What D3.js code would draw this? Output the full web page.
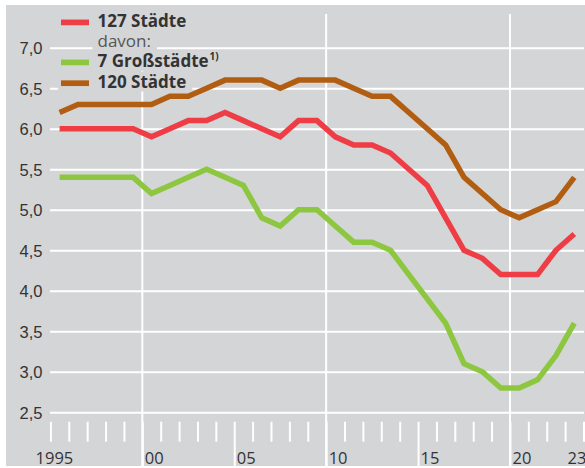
<!DOCTYPE html>
<html>
<head>
<meta charset="utf-8">
<script src="https://cdn.jsdelivr.net/npm/d3@7"></script>
<style>
  html, body { margin: 0; padding: 0; background: #fff; }
  svg { display: block; font-family: "Open Sans", "Noto Sans", sans-serif; }
  .tick-label { font-size: 16.5px; fill: #333; }
  .legend-text { font-size: 17px; font-weight: bold; fill: #333; }
</style>
</head>
<body>
<div id="chart"></div>
<script>
const years = d3.range(1995, 2024);
const cities127 = [6.0, 6.0, 6.0, 6.0, 6.0, 5.9, 6.0, 6.1, 6.1, 6.2,
                   6.1, 6.0, 5.9, 6.1, 6.1, 5.9, 5.8, 5.8, 5.7, 5.5,
                   5.3, 4.9, 4.5, 4.4, 4.2, 4.2, 4.2, 4.5, 4.7];
const bigCities7 = [5.4, 5.4, 5.4, 5.4, 5.4, 5.2, 5.3, 5.4, 5.5, 5.4,
                    5.3, 4.9, 4.8, 5.0, 5.0, 4.8, 4.6, 4.6, 4.5, 4.2,
                    3.9, 3.6, 3.1, 3.0, 2.8, 2.8, 2.9, 3.2, 3.6];
const cities120 = [6.2, 6.3, 6.3, 6.3, 6.3, 6.3, 6.4, 6.4, 6.5, 6.6,
                   6.6, 6.6, 6.5, 6.6, 6.6, 6.6, 6.5, 6.4, 6.4, 6.2,
                   6.0, 5.8, 5.4, 5.2, 5.0, 4.9, 5.0, 5.1, 5.4];
const yTicks = d3.range(2.5, 7.01, 0.5);
const xLabels = [1995, 2000, 2005, 2010, 2015, 2020, 2023];
const xLabelText = ["1995", "00", "05", "10", "15", "20", "23"];

const series = [
  { name: "127 Städte", values: cities127, color: "#ee3d45" },
  { name: "7 Großstädte", values: bigCities7, color: "#8dc63f" },
  { name: "120 Städte", values: cities120, color: "#b25e12" }
];

const W = 585, H = 468;
const svg = d3.select("#chart").append("svg").attr("width", W).attr("height", H);

const de = d3.formatLocale({ decimal: ",", thousands: ".", grouping: [3], currency: ["", "€"] });
const fmt = de.format(".1f");

const x = d3.scaleLinear().domain([1995, 2024]).range([50.4, 583.5]);
const y = d3.scaleLinear().domain([2.5, 7]).range([412.3, 47.7]);

// panel
svg.append("rect").attr("x", 6).attr("y", 5).attr("width", W - 6).attr("height", 461).attr("fill", "#d4d5d7");

// horizontal grid + y labels
const gy = svg.append("g").attr("transform", "translate(584,0)")
  .call(d3.axisLeft(y).tickValues(yTicks).tickSize(534).tickPadding(7.5).tickFormat(fmt));
gy.select(".domain").remove();
gy.selectAll(".tick line").attr("stroke", "#fff").attr("stroke-width", 2);
gy.selectAll(".tick text").attr("class", "tick-label").attr("font-family", null).attr("font-size", null)
  .attr("fill", null).attr("dy", "0.36em");

// vertical grid
svg.append("g").selectAll("line").data([2000, 2010, 2020]).join("line")
  .attr("x1", d => x(d)).attr("x2", d => x(d))
  .attr("y1", 14).attr("y2", 466)
  .attr("stroke", "#fff").attr("stroke-width", 2);

// year ticks
const gx = svg.append("g").attr("transform", "translate(0,421.7)")
  .call(d3.axisBottom(x).tickValues(d3.range(1995, 2025)).tickSize(20).tickFormat(""));
gx.select(".domain").remove();
gx.selectAll(".tick line").attr("stroke", "#fff").attr("stroke-width", 2)
  .attr("y2", d => (d % 5 === 0 && d !== 1995) ? 44.3 : 20);

svg.append("g").selectAll("text").data(xLabels).join("text")
  .attr("class", "tick-label")
  .attr("x", (d, i) => d === 1995 ? x(d) + 4 : x(d) + 2.5)
  .attr("y", 464)
  .attr("text-anchor", d => d === 1995 ? "middle" : "start")
  .text((d, i) => xLabelText[i]);

// lines
const line = d3.line().x((d, i) => x(years[i] + 0.5)).y(d => y(d));
svg.append("g").selectAll("path").data(series).join("path")
  .attr("d", d => line(d.values))
  .attr("fill", "none")
  .attr("stroke", d => d.color)
  .attr("stroke-width", 5.5);

// legend
const lg = svg.append("g");
const rows = [
  { text: "127 Städte", color: series[0].color, y: 26.7, bold: true },
  { text: "davon:", color: null, y: 47.2, bold: false },
  { text: "7 Großstädte", color: series[1].color, y: 66.7, bold: true, sup: "1)" },
  { text: "120 Städte", color: series[2].color, y: 87.5, bold: true }
];
const bgLayer = lg.append("g");
rows.forEach(r => {
  const t = lg.append("text").attr("class", "legend-text").attr("x", 97.5).attr("y", r.y).text(r.text);
  if (!r.bold) t.style("font-weight", "normal").style("fill", "#555");
  if (r.sup) t.append("tspan").attr("dy", -7).attr("dx", 1).style("font-size", "10px").text(r.sup);
  const bb = t.node().getBBox();
  const x0 = r.color ? 58 : bb.x - 5;
  bgLayer.append("rect")
    .attr("x", x0).attr("y", bb.y + 2)
    .attr("width", bb.x + bb.width + 6 - x0).attr("height", bb.height - 3)
    .attr("fill", "#d4d5d7");
  if (r.color) {
    lg.append("line").attr("x1", 61).attr("x2", 89)
      .attr("y1", r.y - 4.3).attr("y2", r.y - 4.3)
      .attr("stroke", r.color).attr("stroke-width", 5.7);
  }
});
</script>
</body>
</html>
